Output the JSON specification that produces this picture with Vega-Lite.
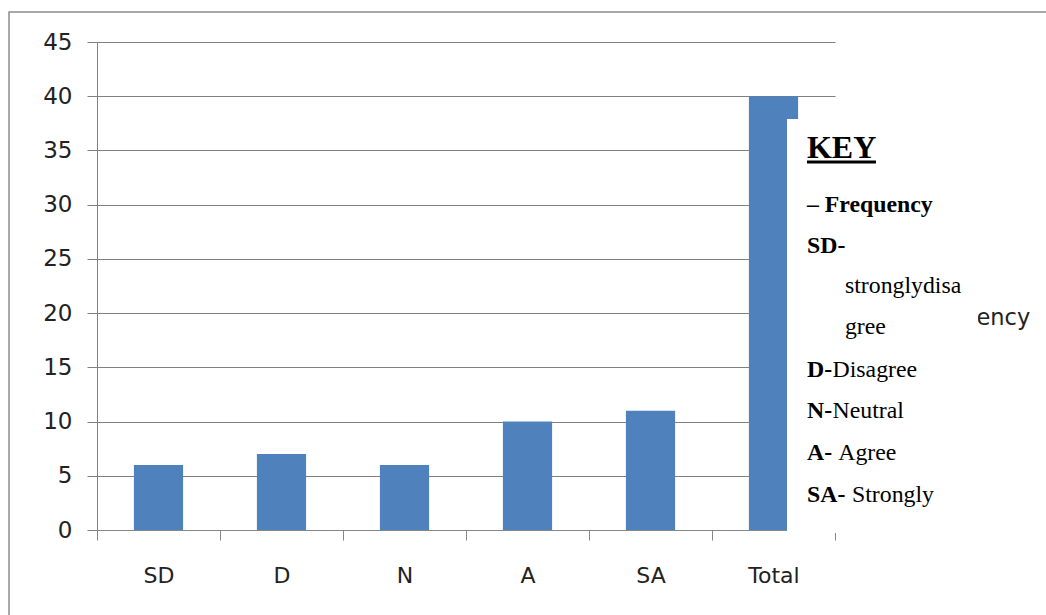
{
  "$schema": "https://vega.github.io/schema/vega-lite/v6.json",
  "width": 738,
  "height": 488,
  "autosize": {"type": "none"},
  "padding": {"left": 97, "top": 42, "right": 211, "bottom": 85},
  "background": "white",
  "config": {"view": {"stroke": null}, "font": "DejaVu Sans"},
  "resolve": {"scale": {"x": "independent", "y": "independent"}},
  "layer": [
    {
      "data": {"values": [
        {"category": "SD", "frequency": 6},
        {"category": "D", "frequency": 7},
        {"category": "N", "frequency": 6},
        {"category": "A", "frequency": 10},
        {"category": "SA", "frequency": 11},
        {"category": "Total", "frequency": 40}
      ]},
      "mark": {"type": "bar", "color": "#4F81BD", "width": {"band": 0.4}},
      "encoding": {
        "x": {"field": "category", "type": "nominal", "sort": null,
          "scale": {"paddingInner": 0, "paddingOuter": 0},
          "axis": {"title": null, "labelAngle": 0, "labelFont": "DejaVu Sans", "labelFontSize": 22, "labelColor": "#222222",
            "tickBand": "extent", "tickSize": 10, "tickColor": "#868686", "domainColor": "#868686", "labelPadding": 25, "grid": false}},
        "y": {"field": "frequency", "type": "quantitative", "scale": {"domain": [0, 45]},
          "axis": {"title": null, "values": [0, 5, 10, 15, 20, 25, 30, 35, 40, 45], "grid": true, "gridColor": "#808080", "gridOpacity": 1, "gridWidth": 1.2,
            "tickSize": 10, "tickColor": "#808080", "domainColor": "#808080", "labelFont": "DejaVu Sans", "labelFontSize": 23,
            "labelPadding": 15, "labelColor": "#222222"}}
      }
    },
    {
      "data": {"values": [{}]},
      "layer": [
        {
          "mark": {"type": "text", "text": "Frequency", "font": "DejaVu Sans", "fontSize": 22.5, "color": "#222222", "align": "left", "baseline": "alphabetic"},
          "encoding": {
            "x": {"datum": 6.642, "type": "quantitative", "scale": {"domain": [0, 6]}, "axis": null},
            "y": {"datum": 18.9, "type": "quantitative", "scale": {"domain": [0, 45]}, "axis": null}
          }
        },
        {
          "mark": {"type": "rect", "fill": "white"},
          "encoding": {
            "x": {"datum": 5.61, "type": "quantitative", "scale": {"domain": [0, 6]}, "axis": null},
            "x2": {"datum": 7.163},
            "y": {"datum": 37.9, "type": "quantitative", "scale": {"domain": [0, 45]}, "axis": null},
            "y2": {"datum": -0.28}
          }
        },
        {
          "mark": {"type": "rect", "filled": false, "stroke": "#8c8c8c", "strokeWidth": 1.5},
          "encoding": {
            "x": {"datum": -0.7154, "type": "quantitative", "scale": {"domain": [0, 6]}, "axis": null},
            "x2": {"datum": 8.5},
            "y": {"datum": 47.77, "type": "quantitative", "scale": {"domain": [0, 45]}, "axis": null},
            "y2": {"datum": -10}
          }
        },
        {
          "mark": {"type": "text", "text": "KEY", "font": "Liberation Serif", "fontWeight": "bold", "fontSize": 32, "color": "black", "align": "left", "baseline": "alphabetic"},
          "encoding": {
            "x": {"datum": 5.772, "type": "quantitative", "scale": {"domain": [0, 6]}, "axis": null},
            "y": {"datum": 34.3, "type": "quantitative", "scale": {"domain": [0, 45]}, "axis": null}
          }
        },
        {
          "mark": {"type": "rule", "color": "black", "strokeWidth": 3},
          "encoding": {
            "x": {"datum": 5.772, "type": "quantitative", "scale": {"domain": [0, 6]}, "axis": null},
            "x2": {"datum": 6.333},
            "y": {"datum": 33.94, "type": "quantitative", "scale": {"domain": [0, 45]}, "axis": null}
          }
        },
        {
          "mark": {"type": "text", "text": "– Frequency", "font": "Liberation Serif", "fontWeight": "bold", "fontSize": 23.8, "color": "black", "align": "left", "baseline": "alphabetic"},
          "encoding": {
            "x": {"datum": 5.772, "type": "quantitative", "scale": {"domain": [0, 6]}, "axis": null},
            "y": {"datum": 29.32, "type": "quantitative", "scale": {"domain": [0, 45]}, "axis": null}
          }
        },
        {
          "mark": {"type": "text", "text": "SD-", "font": "Liberation Serif", "fontWeight": "bold", "fontSize": 23.8, "color": "black", "align": "left", "baseline": "alphabetic"},
          "encoding": {
            "x": {"datum": 5.772, "type": "quantitative", "scale": {"domain": [0, 6]}, "axis": null},
            "y": {"datum": 25.54, "type": "quantitative", "scale": {"domain": [0, 45]}, "axis": null}
          }
        },
        {
          "mark": {"type": "text", "text": "stronglydisa", "font": "Liberation Serif", "fontSize": 23.8, "color": "black", "align": "left", "baseline": "alphabetic"},
          "encoding": {
            "x": {"datum": 6.081, "type": "quantitative", "scale": {"domain": [0, 6]}, "axis": null},
            "y": {"datum": 21.86, "type": "quantitative", "scale": {"domain": [0, 45]}, "axis": null}
          }
        },
        {
          "mark": {"type": "text", "text": "gree", "font": "Liberation Serif", "fontSize": 23.8, "color": "black", "align": "left", "baseline": "alphabetic"},
          "encoding": {
            "x": {"datum": 6.081, "type": "quantitative", "scale": {"domain": [0, 6]}, "axis": null},
            "y": {"datum": 18.07, "type": "quantitative", "scale": {"domain": [0, 45]}, "axis": null}
          }
        },
        {
          "mark": {"type": "text", "text": "D-", "font": "Liberation Serif", "fontWeight": "bold", "fontSize": 23.8, "color": "black", "align": "left", "baseline": "alphabetic"},
          "encoding": {
            "x": {"datum": 5.772, "type": "quantitative", "scale": {"domain": [0, 6]}, "axis": null},
            "y": {"datum": 14.11, "type": "quantitative", "scale": {"domain": [0, 45]}, "axis": null}
          }
        },
        {
          "mark": {"type": "text", "text": "Disagree", "font": "Liberation Serif", "fontSize": 23.8, "color": "black", "align": "left", "baseline": "alphabetic"},
          "encoding": {
            "x": {"datum": 5.98, "type": "quantitative", "scale": {"domain": [0, 6]}, "axis": null},
            "y": {"datum": 14.11, "type": "quantitative", "scale": {"domain": [0, 45]}, "axis": null}
          }
        },
        {
          "mark": {"type": "text", "text": "N-", "font": "Liberation Serif", "fontWeight": "bold", "fontSize": 23.8, "color": "black", "align": "left", "baseline": "alphabetic"},
          "encoding": {
            "x": {"datum": 5.772, "type": "quantitative", "scale": {"domain": [0, 6]}, "axis": null},
            "y": {"datum": 10.33, "type": "quantitative", "scale": {"domain": [0, 45]}, "axis": null}
          }
        },
        {
          "mark": {"type": "text", "text": "Neutral", "font": "Liberation Serif", "fontSize": 23.8, "color": "black", "align": "left", "baseline": "alphabetic"},
          "encoding": {
            "x": {"datum": 5.98, "type": "quantitative", "scale": {"domain": [0, 6]}, "axis": null},
            "y": {"datum": 10.33, "type": "quantitative", "scale": {"domain": [0, 45]}, "axis": null}
          }
        },
        {
          "mark": {"type": "text", "text": "A-", "font": "Liberation Serif", "fontWeight": "bold", "fontSize": 23.8, "color": "black", "align": "left", "baseline": "alphabetic"},
          "encoding": {
            "x": {"datum": 5.772, "type": "quantitative", "scale": {"domain": [0, 6]}, "axis": null},
            "y": {"datum": 6.46, "type": "quantitative", "scale": {"domain": [0, 45]}, "axis": null}
          }
        },
        {
          "mark": {"type": "text", "text": "Agree", "font": "Liberation Serif", "fontSize": 23.8, "color": "black", "align": "left", "baseline": "alphabetic"},
          "encoding": {
            "x": {"datum": 6.026, "type": "quantitative", "scale": {"domain": [0, 6]}, "axis": null},
            "y": {"datum": 6.46, "type": "quantitative", "scale": {"domain": [0, 45]}, "axis": null}
          }
        },
        {
          "mark": {"type": "text", "text": "SA-", "font": "Liberation Serif", "fontWeight": "bold", "fontSize": 23.8, "color": "black", "align": "left", "baseline": "alphabetic"},
          "encoding": {
            "x": {"datum": 5.772, "type": "quantitative", "scale": {"domain": [0, 6]}, "axis": null},
            "y": {"datum": 2.58, "type": "quantitative", "scale": {"domain": [0, 45]}, "axis": null}
          }
        },
        {
          "mark": {"type": "text", "text": "Strongly", "font": "Liberation Serif", "fontSize": 23.8, "color": "black", "align": "left", "baseline": "alphabetic"},
          "encoding": {
            "x": {"datum": 6.138, "type": "quantitative", "scale": {"domain": [0, 6]}, "axis": null},
            "y": {"datum": 2.58, "type": "quantitative", "scale": {"domain": [0, 45]}, "axis": null}
          }
        }
      ]
    }
  ]
}
